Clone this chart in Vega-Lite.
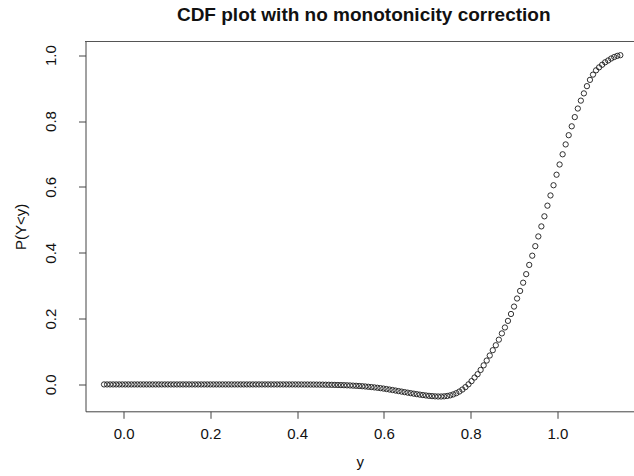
{
  "$schema": "https://vega.github.io/schema/vega-lite/v6.json",
  "autosize": "none",
  "width": 548.5,
  "height": 369.8,
  "padding": {"left": 85.5, "top": 41.5, "right": 0, "bottom": 64.7},
  "background": "white",
  "config": {
    "view": {"stroke": null},
    "font": "Liberation Sans",
    "axis": {"grid": false, "domainColor": "#444", "tickColor": "#444", "labelColor": "#111", "titleColor": "#111", "labelFont": "Liberation Sans", "titleFont": "Liberation Sans", "labelFontSize": 15, "titleFontSize": 15, "titleFontWeight": "normal", "tickSize": 7, "domainWidth": 1, "tickWidth": 1}
  },
  "title": {"text": "CDF plot with no monotonicity correction", "font": "Liberation Sans", "fontSize": 19, "fontWeight": "bold", "color": "#111", "anchor": "middle", "dx": 4, "offset": 16},
  "data": {"values": [
    {"y":-0.045,"p":0},{"y":-0.038,"p":0},{"y":-0.031,"p":0},{"y":-0.024,"p":0},{"y":-0.017,"p":0},{"y":-0.010,"p":0},{"y":-0.003,"p":0},{"y":0.004,"p":0},{"y":0.011,"p":0},{"y":0.018,"p":0},
    {"y":0.025,"p":0},{"y":0.032,"p":0},{"y":0.039,"p":0},{"y":0.046,"p":0},{"y":0.053,"p":0},{"y":0.060,"p":0},{"y":0.067,"p":0},{"y":0.074,"p":0},{"y":0.081,"p":0},{"y":0.088,"p":0},
    {"y":0.095,"p":0},{"y":0.102,"p":0},{"y":0.109,"p":0},{"y":0.116,"p":0},{"y":0.123,"p":0},{"y":0.130,"p":0},{"y":0.137,"p":0},{"y":0.144,"p":0},{"y":0.151,"p":0},{"y":0.158,"p":0},
    {"y":0.165,"p":0},{"y":0.172,"p":0},{"y":0.179,"p":0},{"y":0.186,"p":0},{"y":0.193,"p":0},{"y":0.200,"p":0},{"y":0.207,"p":0},{"y":0.214,"p":0},{"y":0.221,"p":0},{"y":0.228,"p":0},
    {"y":0.235,"p":0},{"y":0.242,"p":0},{"y":0.249,"p":0},{"y":0.256,"p":0},{"y":0.263,"p":0},{"y":0.270,"p":0},{"y":0.277,"p":0},{"y":0.284,"p":0},{"y":0.291,"p":0},{"y":0.298,"p":0},
    {"y":0.305,"p":0},{"y":0.312,"p":0},{"y":0.319,"p":0},{"y":0.326,"p":0},{"y":0.333,"p":0},{"y":0.340,"p":0},{"y":0.347,"p":0},{"y":0.354,"p":0},{"y":0.361,"p":0},{"y":0.368,"p":0},
    {"y":0.375,"p":0},{"y":0.382,"p":0},{"y":0.389,"p":0},{"y":0.396,"p":0},{"y":0.403,"p":-0.0001},{"y":0.410,"p":-0.0001},{"y":0.417,"p":-0.0002},{"y":0.424,"p":-0.0002},{"y":0.431,"p":-0.0003},{"y":0.438,"p":-0.0003},
    {"y":0.445,"p":-0.0004},{"y":0.452,"p":-0.0005},{"y":0.459,"p":-0.0006},{"y":0.466,"p":-0.0008},{"y":0.473,"p":-0.001},{"y":0.480,"p":-0.0012},{"y":0.487,"p":-0.0014},{"y":0.494,"p":-0.0017},{"y":0.501,"p":-0.002},{"y":0.508,"p":-0.0023},
    {"y":0.515,"p":-0.0027},{"y":0.522,"p":-0.0031},{"y":0.529,"p":-0.0036},{"y":0.536,"p":-0.0041},{"y":0.543,"p":-0.0047},{"y":0.550,"p":-0.0054},{"y":0.557,"p":-0.0062},{"y":0.564,"p":-0.0071},{"y":0.571,"p":-0.008},{"y":0.578,"p":-0.009},
    {"y":0.585,"p":-0.0101},{"y":0.592,"p":-0.0113},{"y":0.599,"p":-0.0126},{"y":0.606,"p":-0.014},{"y":0.613,"p":-0.0155},{"y":0.620,"p":-0.017},{"y":0.627,"p":-0.0186},{"y":0.634,"p":-0.0202},{"y":0.641,"p":-0.0218},{"y":0.648,"p":-0.0234},
    {"y":0.655,"p":-0.025},{"y":0.662,"p":-0.0266},{"y":0.669,"p":-0.0281},{"y":0.676,"p":-0.0296},{"y":0.683,"p":-0.031},{"y":0.690,"p":-0.0323},{"y":0.697,"p":-0.0335},{"y":0.704,"p":-0.0346},{"y":0.711,"p":-0.0355},{"y":0.718,"p":-0.0362},
    {"y":0.725,"p":-0.0366},{"y":0.732,"p":-0.0366},{"y":0.739,"p":-0.0361},{"y":0.746,"p":-0.035},{"y":0.753,"p":-0.0331},{"y":0.760,"p":-0.0303},{"y":0.767,"p":-0.0265},{"y":0.774,"p":-0.0216},{"y":0.781,"p":-0.0155},{"y":0.788,"p":-0.0082},
    {"y":0.795,"p":0.0003},{"y":0.802,"p":0.010},{"y":0.809,"p":0.021},{"y":0.816,"p":0.031},{"y":0.823,"p":0.044},{"y":0.830,"p":0.058},{"y":0.837,"p":0.0725},{"y":0.844,"p":0.0878},{"y":0.851,"p":0.104},{"y":0.858,"p":0.119},
    {"y":0.865,"p":0.136},{"y":0.872,"p":0.155},{"y":0.879,"p":0.173},{"y":0.886,"p":0.193},{"y":0.893,"p":0.214},{"y":0.900,"p":0.2365},{"y":0.907,"p":0.261},{"y":0.914,"p":0.284},{"y":0.921,"p":0.309},{"y":0.928,"p":0.335},
    {"y":0.935,"p":0.363},{"y":0.942,"p":0.391},{"y":0.949,"p":0.420},{"y":0.956,"p":0.4495},{"y":0.963,"p":0.480},{"y":0.970,"p":0.5106},{"y":0.977,"p":0.543},{"y":0.984,"p":0.574},{"y":0.991,"p":0.605},{"y":0.998,"p":0.637},
    {"y":1.005,"p":0.668},{"y":1.012,"p":0.699},{"y":1.019,"p":0.729},{"y":1.026,"p":0.757},{"y":1.033,"p":0.784},{"y":1.040,"p":0.812},{"y":1.047,"p":0.838},{"y":1.054,"p":0.862},{"y":1.061,"p":0.884},{"y":1.068,"p":0.906},
    {"y":1.075,"p":0.925},{"y":1.082,"p":0.941},{"y":1.089,"p":0.954},{"y":1.096,"p":0.963},{"y":1.103,"p":0.971},{"y":1.110,"p":0.9785},{"y":1.117,"p":0.984},{"y":1.124,"p":0.990},{"y":1.131,"p":0.9945},{"y":1.138,"p":0.998},
    {"y":1.145,"p":1.0}
  ]},
  "layer": [
    {
      "mark": {"type": "point", "shape": "circle", "filled": false, "stroke": "#1a1a1a", "strokeWidth": 0.9, "size": 28, "opacity": 1},
      "encoding": {
        "x": {"field": "y", "type": "quantitative", "title": "y",
              "scale": {"domain": [-0.0877, 1.1765], "nice": false, "zero": false},
              "axis": {"values": [0, 0.2, 0.4, 0.6, 0.8, 1.0], "format": ".1f", "labelPadding": 8, "titlePadding": 13, "labelFlush": false}},
        "y": {"field": "p", "type": "quantitative", "title": "P(Y<y)",
              "scale": {"domain": [-0.0816, 1.0416], "nice": false, "zero": false},
              "axis": {"values": [0, 0.2, 0.4, 0.6, 0.8, 1.0], "format": ".1f", "labelAngle": -90, "labelAlign": "center", "labelBaseline": "alphabetic", "labelPadding": 23, "titlePadding": 15, "labelFlush": false}}
      }
    },
    {
      "mark": {"type": "rule", "color": "#555", "strokeWidth": 1},
      "encoding": {"y": {"datum": 1.0416}}
    }
  ]
}
